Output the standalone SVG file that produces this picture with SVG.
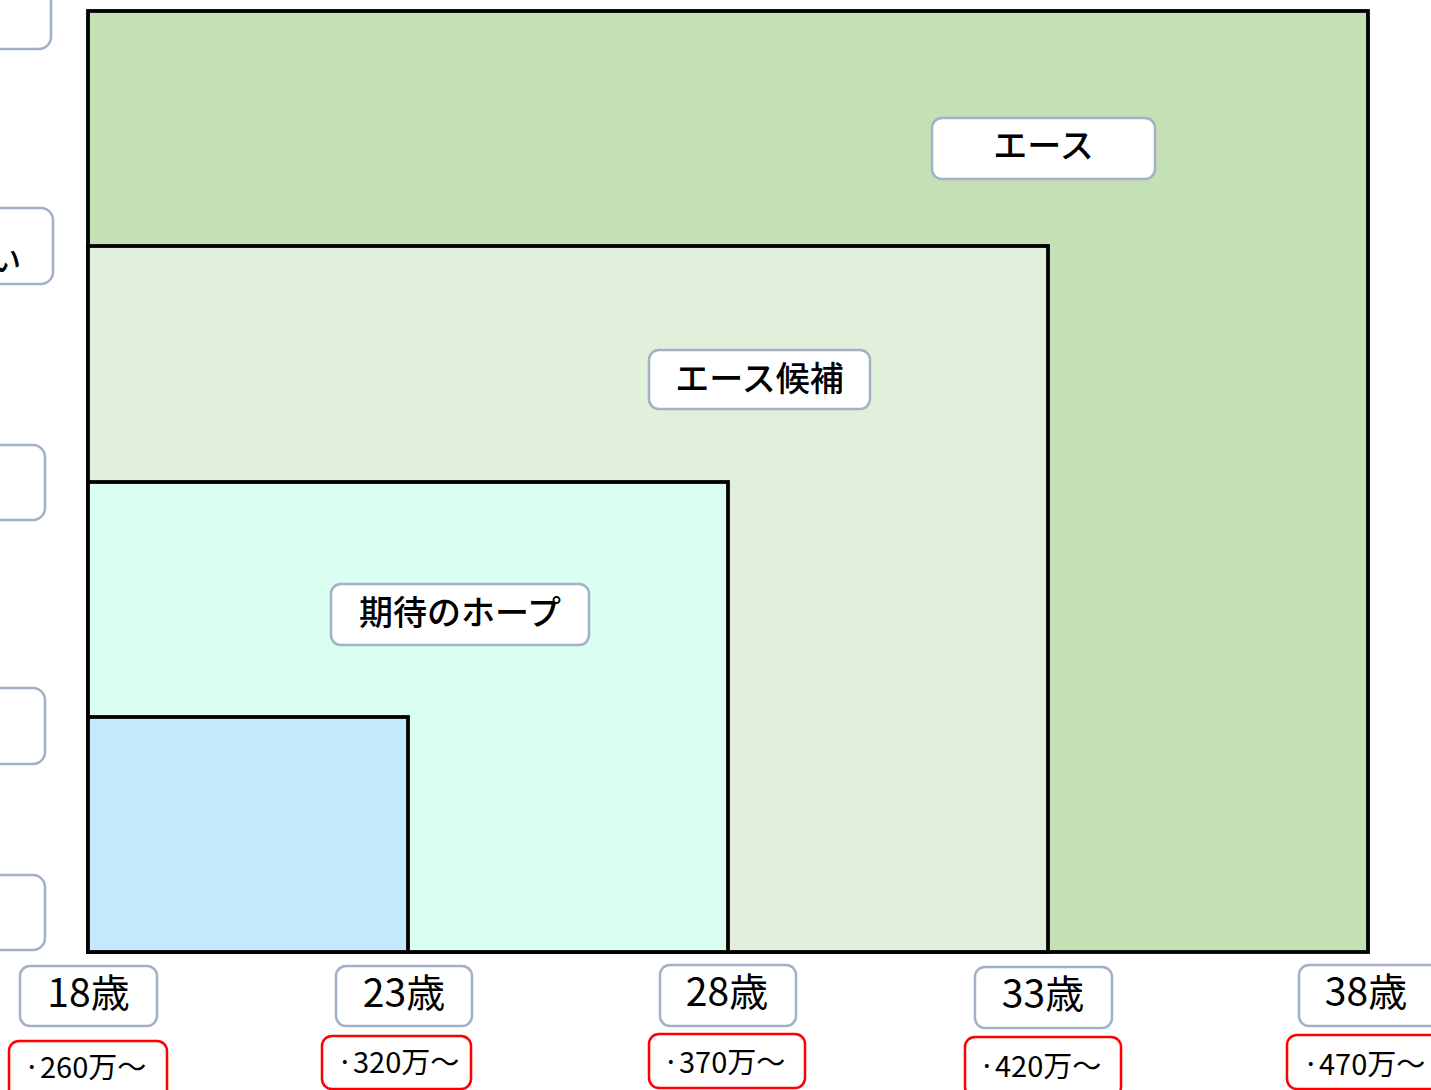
<svg xmlns="http://www.w3.org/2000/svg" width="1431" height="1090" viewBox="0 0 1431 1090">
<style>
.zone{stroke:#000;stroke-width:3.8}
.lbl{fill:#fff;stroke:#a2b0c8;stroke-width:2.5}
.money{fill:#fff;stroke:#ff0000;stroke-width:2.5}
text{font-family:"Noto Sans CJK JP","Noto Sans",sans-serif;fill:#000;font-weight:500}
.t34{font-size:34px;text-anchor:middle}
.age{font-size:39px;text-anchor:middle;font-weight:400}
.yen{font-size:29px;text-anchor:middle;font-weight:400}
</style>
<rect width="1431" height="1090" fill="#fff"/>
<g id="side-boxes">
<rect class="lbl" x="-150" y="-30" width="201" height="79" rx="12"/>
<rect class="lbl" x="-150" y="208" width="203" height="76" rx="12"/>
<text x="21" y="271" font-size="30" text-anchor="end">い</text>
<rect class="lbl" x="-150" y="445" width="195" height="75" rx="12"/>
<rect class="lbl" x="-150" y="688" width="195" height="76" rx="12"/>
<rect class="lbl" x="-150" y="875" width="195" height="75" rx="12"/>
</g>
<g id="zone-ace"><rect class="zone" x="88" y="11" width="1280" height="941" fill="#c5e0b4"/></g>
<g id="zone-candidate"><rect class="zone" x="88" y="246" width="960" height="706" fill="#e2efda"/></g>
<g id="zone-hope"><rect class="zone" x="88" y="482" width="640" height="470" fill="#dafef0"/></g>
<g id="zone-new"><rect class="zone" x="88" y="717" width="320" height="235" fill="#c6eafd"/></g>
<g id="connectors"/>
<g id="label-ace"><rect class="lbl" x="932" y="118" width="223" height="61" rx="10"/><text class="t34" x="1043.5" y="158">エース</text></g>
<g id="label-candidate"><rect class="lbl" x="649" y="350" width="221" height="59" rx="10"/><text class="t34" x="759.5" y="391">エース候補</text></g>
<g id="label-hope"><rect class="lbl" x="331" y="584" width="258" height="61" rx="10"/><text class="t34" x="460" y="625">期待のホープ</text></g>
<g id="age-18"><rect class="lbl" x="20" y="966" width="137" height="60" rx="10"/><text class="age" x="88.5" y="1007">18歳</text></g>
<g id="age-23"><rect class="lbl" x="336" y="966" width="136" height="60" rx="10"/><text class="age" x="404" y="1007">23歳</text></g>
<g id="age-28"><rect class="lbl" x="660" y="965" width="136" height="61" rx="10"/><text class="age" x="727" y="1006">28歳</text></g>
<g id="age-33"><rect class="lbl" x="975" y="967" width="137" height="61" rx="10"/><text class="age" x="1043" y="1008">33歳</text></g>
<g id="age-38"><rect class="lbl" x="1299" y="965" width="150" height="61" rx="10"/><text class="age" x="1366" y="1006">38歳</text></g>
<g id="pay-260"><rect class="money" x="9" y="1041" width="158" height="60" rx="10"/><text class="yen" x="85" y="1078">·260万～</text></g>
<g id="pay-320"><rect class="money" x="322" y="1036" width="149" height="53" rx="10"/><text class="yen" x="398" y="1073">·320万～</text></g>
<g id="pay-370"><rect class="money" x="649" y="1034" width="156" height="54" rx="10"/><text class="yen" x="724" y="1073">·370万～</text></g>
<g id="pay-420"><rect class="money" x="965" y="1037" width="156" height="60" rx="10"/><text class="yen" x="1040" y="1077">·420万～</text></g>
<g id="pay-470"><rect class="money" x="1287" y="1035" width="160" height="54" rx="10"/><text class="yen" x="1364" y="1075">·470万～</text></g>
</svg>
